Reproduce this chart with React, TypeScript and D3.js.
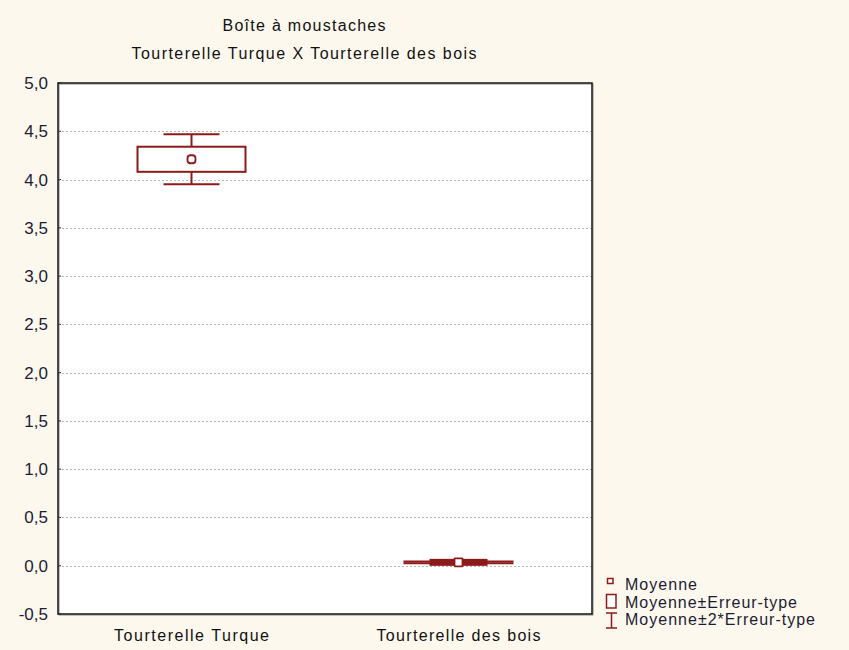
import React from "react";
import * as d3 from "d3";

const categories = ["Tourterelle Turque", "Tourterelle des bois"];
const means = [4.21, 0.035];
const stdErrors = [0.13, 0.005];
const yTicks = [-0.5, 0, 0.5, 1, 1.5, 2, 2.5, 3, 3.5, 4, 4.5, 5];
const legendLabels = ["Moyenne", "Moyenne±Erreur-type", "Moyenne±2*Erreur-type"];
const titleLines = ["Boîte à moustaches", "Tourterelle Turque X Tourterelle des bois"];

const W = 849, H = 650;
const plot = { left: 58, right: 592, top: 83, bottom: 614 };
const RED = "#8e1b1b";
const TXT = "#1c1c34";
const FONT = "'Liberation Sans', Arial, sans-serif";
// per-category drawing widths (px)
const boxWidths = [108, 56];
const capWidths = [56, 110];
const catLabelWidths = [155, 164];
const legendWidths = [72, 172, 190];
const titleWidths = [163, 345];

export default function App() {
  const y = d3.scaleLinear().domain([-0.5, 5]).range([plot.bottom, plot.top]);
  const x = d3.scalePoint<string>().domain(categories).range([plot.left, plot.right]).padding(0.5);
  const fmt = (v: number) => v.toFixed(1).replace(".", ",");

  return (
    <svg width={W} height={H} style={{ position: "absolute", left: 0, top: 0, display: "block" }} fontFamily={FONT}>
      <rect x={0} y={0} width={W} height={H} fill="#fdf8ee" />
      {titleLines.map((t, i) => (
        <text key={t} x={304} y={31 + i * 28} textAnchor="middle" fontSize={16} fill="#111"
          textLength={titleWidths[i]} lengthAdjust="spacing">{t}</text>
      ))}
      <rect x={plot.left} y={plot.top} width={plot.right - plot.left} height={plot.bottom - plot.top} fill="#fff" />
      {yTicks.filter(t => t > -0.5 && t < 5).map(t => (
        <line key={t} x1={plot.left} x2={plot.right} y1={Math.round(y(t)) + 0.5} y2={Math.round(y(t)) + 0.5}
          stroke="#b5b5b5" strokeWidth={1} strokeDasharray="2,2" />
      ))}
      {yTicks.map(t => (
        <g key={"t" + t}>
          <line x1={plot.left} x2={plot.left + 3} y1={y(t)} y2={y(t)} stroke="#222" />
          <text x={48} y={y(t) + 6} textAnchor="end" fontSize={17} fill={TXT}>{fmt(t)}</text>
        </g>
      ))}
      {categories.map((c, i) => {
        const cx = x(c)!;
        const m = means[i], se = stdErrors[i];
        const bw = boxWidths[i], cw = capWidths[i];
        const yTop = y(m + 2 * se), yBot = y(m - 2 * se);
        const bTop = y(m + se), bBot = y(m - se);
        const thin = bBot - bTop < 6;
        return (
          <g key={c} stroke={RED} strokeWidth={2} fill="none">
            <line x1={cx} x2={cx} y1={yTop} y2={bTop} />
            <line x1={cx} x2={cx} y1={bBot} y2={yBot} />
            <line x1={cx - cw / 2} x2={cx + cw / 2} y1={yTop} y2={yTop} />
            <line x1={cx - cw / 2} x2={cx + cw / 2} y1={yBot} y2={yBot} />
            <rect x={cx - bw / 2} y={thin ? y(m) - 2.5 : bTop} width={bw} height={thin ? 5 : bBot - bTop}
              fill={thin ? RED : "none"} />
            <rect x={cx - 4} y={y(m) - 4} width={8} height={8} rx={i === 0 ? 3 : 0.5} fill="#fff" strokeWidth={1.8} />
            <text x={cx} y={641} textAnchor="middle" fontSize={16} fill="#111" stroke="none"
              textLength={catLabelWidths[i]} lengthAdjust="spacing">{c}</text>
          </g>
        );
      })}
      <rect x={plot.left} y={plot.top} width={plot.right - plot.left} height={plot.bottom - plot.top}
        fill="none" stroke="#888" strokeWidth={1} transform="translate(1,1)" />
      <rect x={plot.left} y={plot.top} width={plot.right - plot.left} height={plot.bottom - plot.top}
        fill="none" stroke="#222" strokeWidth={1.6} />
      {legendLabels.map((l, i) => {
        const ly = 590 + i * 17.5;
        return (
          <g key={l}>
            {i === 0 && <rect x={607.5} y={ly - 11.5} width={5.5} height={5} fill="#fff" stroke={RED} strokeWidth={1.5} />}
            {i === 1 && <rect x={606.5} y={ly - 13} width={9.5} height={13.5} fill="#fff" stroke={RED} strokeWidth={1.5} />}
            {i === 2 && (
              <g stroke={RED} strokeWidth={1.5}>
                <line x1={606} x2={617} y1={ly - 12} y2={ly - 12} />
                <line x1={611.5} x2={611.5} y1={ly - 12} y2={ly + 3} />
                <line x1={606} x2={617} y1={ly + 3} y2={ly + 3} />
              </g>
            )}
            <text x={625} y={ly} fontSize={16} fill={TXT}
              textLength={legendWidths[i]} lengthAdjust="spacing">{l}</text>
          </g>
        );
      })}
    </svg>
  );
}
